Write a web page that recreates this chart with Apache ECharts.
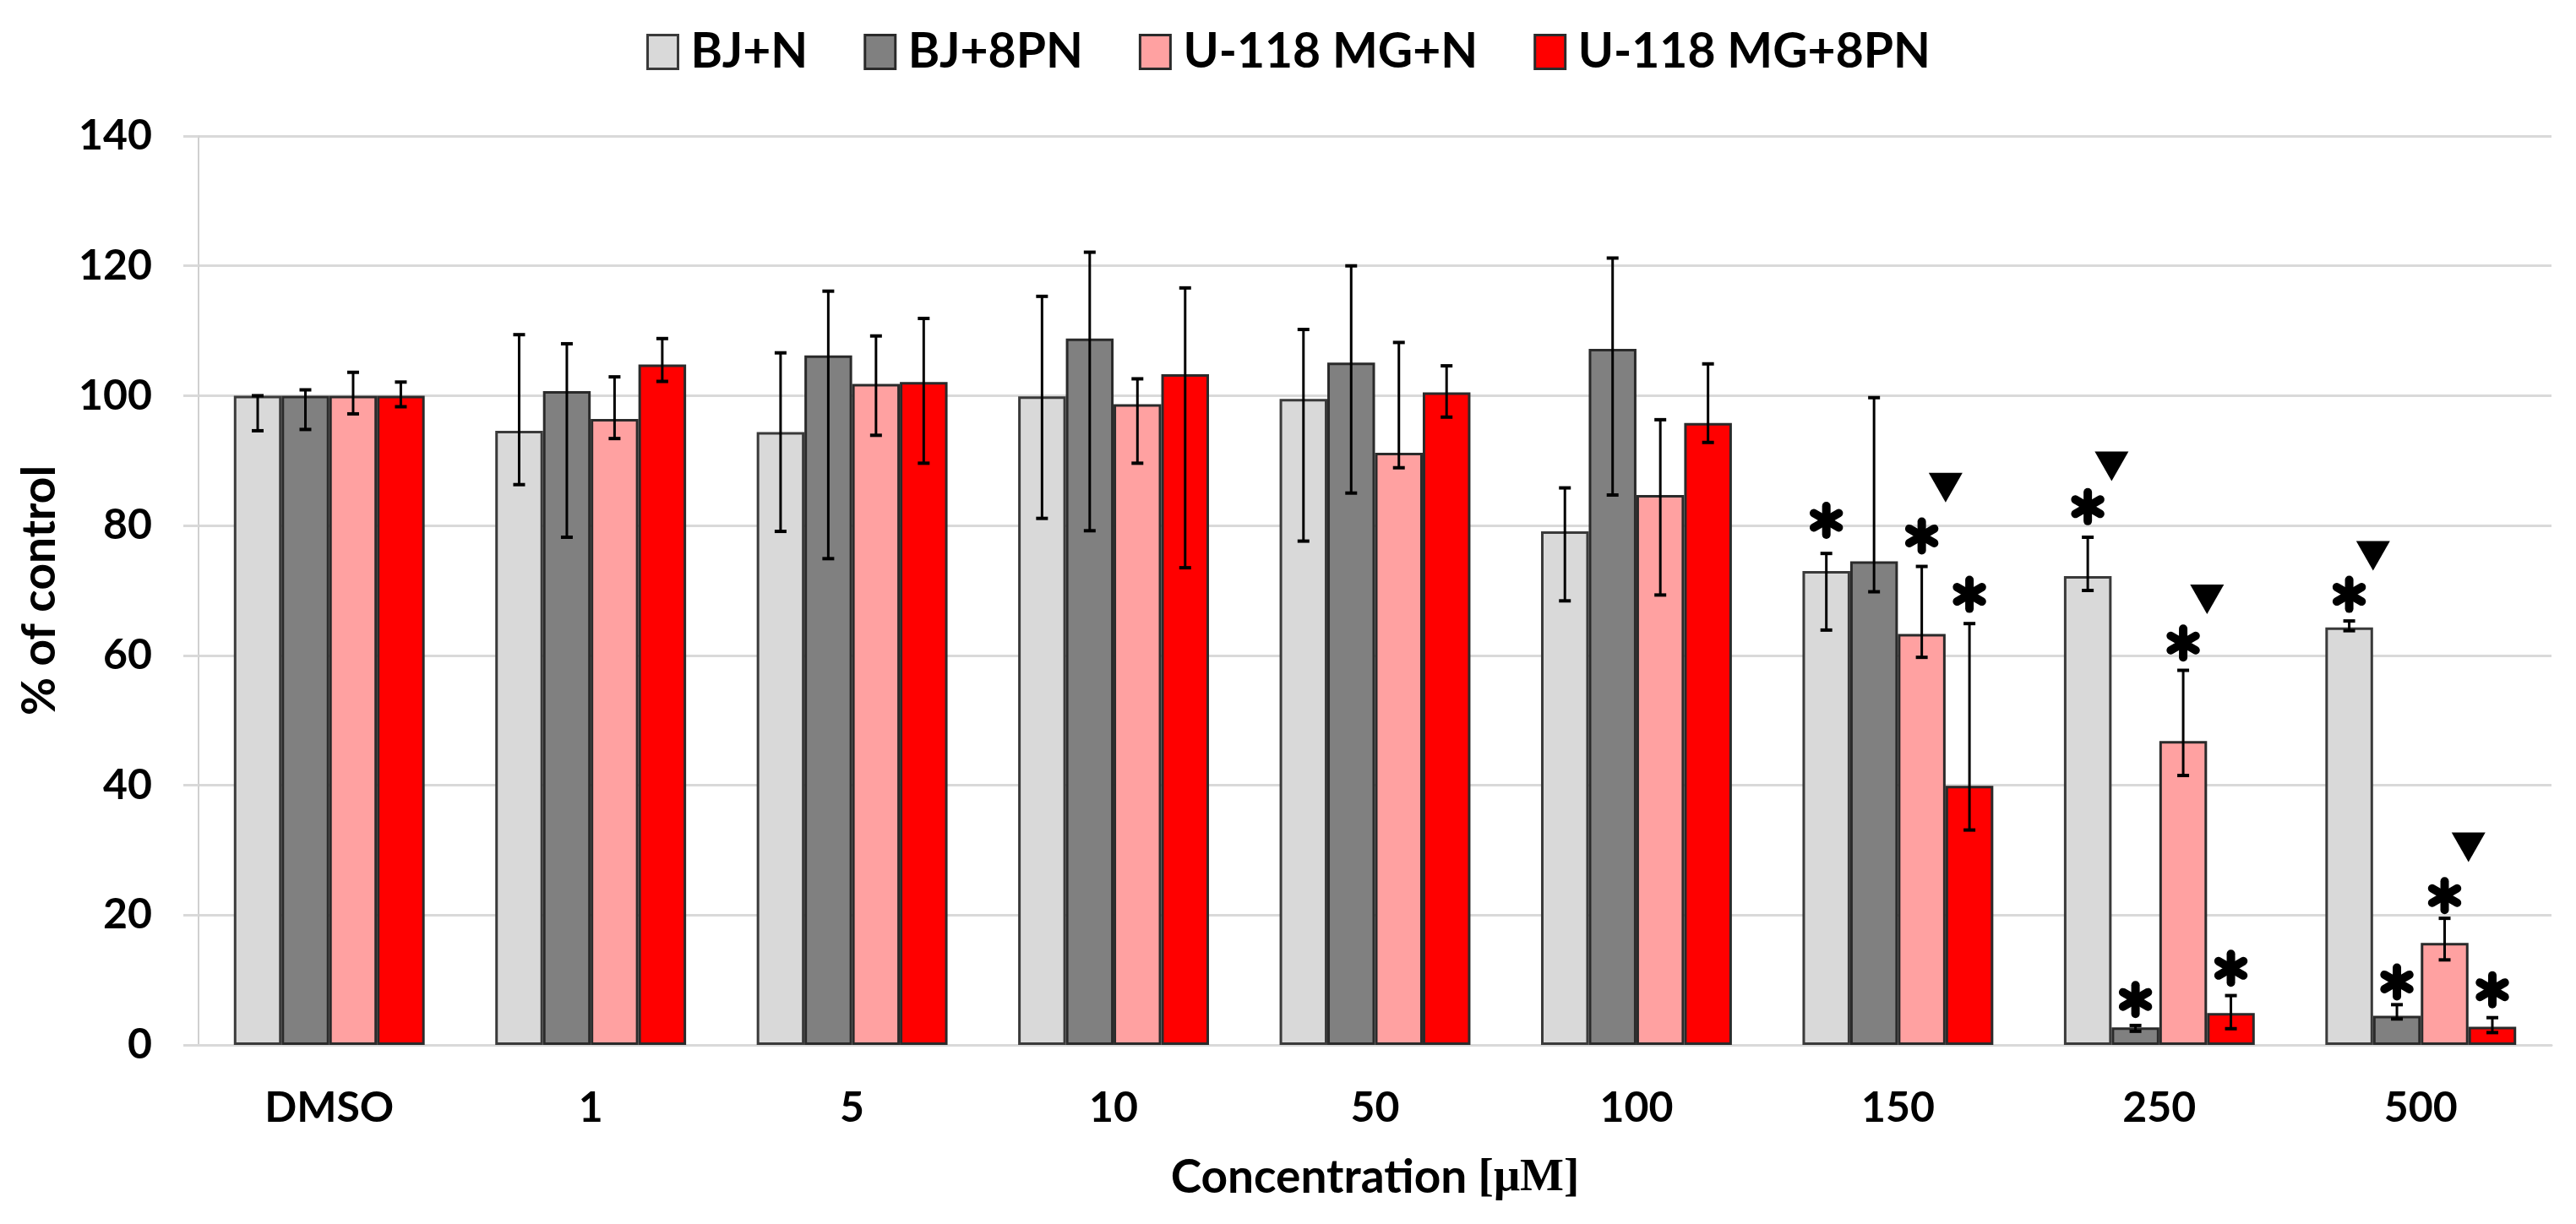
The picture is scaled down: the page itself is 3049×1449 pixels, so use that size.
<!DOCTYPE html>
<html>
<head>
<meta charset="utf-8">
<script src="https://cdn.jsdelivr.net/npm/echarts@6/dist/echarts.min.js"></script>
<style>
html,body{margin:0;padding:0;background:#fff;}
#chart{width:3049px;height:1449px;}
</style>
</head>
<body>
<div id="chart"></div>
<script>
const categories = ['DMSO', '1', '5', '10', '50', '100', '150', '250', '500'];
const seriesNames = ['BJ+N', 'BJ+8PN', 'U-118 MG+N', 'U-118 MG+8PN'];
const yTicks = [0, 20, 40, 60, 80, 100, 120, 140];

const bjN    = [100, 94.6, 94.4, 99.9, 99.5, 79.1, 73.0, 72.2, 64.3];
const bjNLo  = [94.6, 86.3, 79.1, 81.1, 77.6, 68.4, 63.9, 70.0, 63.8];
const bjNHi  = [100, 109.4, 106.6, 115.3, 110.2, 85.8, 75.7, 78.2, 65.3];

const bj8    = [100, 100.7, 106.2, 108.8, 105.1, 107.2, 74.5, 2.7, 4.5];
const bj8Lo  = [94.8, 78.2, 74.9, 79.2, 85.0, 84.7, 69.8, 2.1, 4.0];
const bj8Hi  = [100.9, 108.0, 116.1, 122.1, 120.0, 121.2, 99.7, 3.0, 6.2];

const mgN    = [100, 96.4, 101.8, 98.7, 91.2, 84.7, 63.3, 46.8, 15.7];
const mgNLo  = [97.2, 93.4, 93.9, 89.6, 88.9, 69.3, 59.7, 41.5, 13.1];
const mgNHi  = [103.6, 102.9, 109.2, 102.6, 108.2, 96.3, 73.7, 57.7, 19.5];

const mg8    = [100, 104.8, 102.1, 103.3, 100.5, 95.8, 39.9, 4.9, 2.8];
const mg8Lo  = [98.3, 102.2, 89.6, 73.5, 96.7, 92.8, 33.1, 2.5, 1.9];
const mg8Hi  = [102.1, 108.8, 111.9, 116.6, 104.6, 104.9, 64.9, 7.6, 4.2];

// significance markers (y position of asterisk / triangle centre, in axis units)
const bjNStar = [null, null, null, null, null, null, 80.8, 82.9, 69.4];
const bj8Star = [null, null, null, null, null, null, null, 7.0, 9.7];
const mgNStar = [null, null, null, null, null, null, 78.4, 61.9, 23.0];
const mg8Star = [null, null, null, null, null, null, 69.4, 11.8, 8.5];
const bjNTri  = [null, null, null, null, null, null, null, 89.2, 75.4];
const bj8Tri  = [null, null, null, null, null, null, null, null, null];
const mgNTri  = [null, null, null, null, null, null, 85.9, 68.7, 30.5];
const mg8Tri  = [null, null, null, null, null, null, null, null, null];

const values = [bjN, bj8, mgN, mg8];
const lows = [bjNLo, bj8Lo, mgNLo, mg8Lo];
const highs = [bjNHi, bj8Hi, mgNHi, mg8Hi];
const stars = [bjNStar, bj8Star, mgNStar, mg8Star];
const tris = [bjNTri, bj8Tri, mgNTri, mg8Tri];

const colors = ['#d9d9d9', '#808080', '#ffa1a1', '#ff0000'];
const borders = ['#3a3a3a', '#2a2a2a', '#2a2a2a', '#2a2a2a'];
const CAT_GAP = 0.27;
const FONT = 'Lato';

const chart = echarts.init(document.getElementById('chart'));

const series = [];
values.forEach((vals, i) => {
  series.push({
    name: seriesNames[i],
    type: 'bar',
    data: vals,
    barGap: '0%',
    barCategoryGap: (CAT_GAP * 100) + '%',
    itemStyle: { color: colors[i], borderColor: borders[i], borderWidth: 3 },
    emphasis: { disabled: true },
    z: 2
  });
});

values.forEach((vals, i) => {
  series.push({
    type: 'custom',
    name: seriesNames[i] + ' err',
    data: categories.map((c, k) => [k, lows[i][k], highs[i][k]]),
    encode: { x: 0, y: [1, 2] },
    z: 5,
    silent: true,
    renderItem: function (params, api) {
      const k = api.value(0);
      const catW = api.size([1, 0])[0];
      const barW = catW * (1 - CAT_GAP) / 4;
      const x = api.coord([k, 0])[0] + (i - 1.5) * barW;
      const yLo = api.coord([k, api.value(1)])[1];
      const yHi = api.coord([k, api.value(2)])[1];
      const cap = 7;
      const st = { stroke: '#000', lineWidth: 3 };
      const children = [
        { type: 'line', shape: { x1: x, y1: yLo, x2: x, y2: yHi }, style: st },
        { type: 'line', shape: { x1: x - cap, y1: yLo, x2: x + cap, y2: yLo }, style: { stroke: '#000', lineWidth: 4 } },
        { type: 'line', shape: { x1: x - cap, y1: yHi, x2: x + cap, y2: yHi }, style: { stroke: '#000', lineWidth: 4 } }
      ];
      const sv = stars[i][params.dataIndex];
      if (sv !== null && sv !== undefined) {
        const cy = api.coord([k, sv])[1];
        const r = 17;
        const ss = { stroke: '#000', lineWidth: 10, lineCap: 'round' };
        const c30 = Math.cos(Math.PI / 6) * r, s30 = Math.sin(Math.PI / 6) * r;
        children.push({ type: 'line', shape: { x1: x, y1: cy - r, x2: x, y2: cy + r }, style: ss });
        children.push({ type: 'line', shape: { x1: x - c30, y1: cy - s30, x2: x + c30, y2: cy + s30 }, style: ss });
        children.push({ type: 'line', shape: { x1: x - c30, y1: cy + s30, x2: x + c30, y2: cy - s30 }, style: ss });
      }
      const tv = tris[i][params.dataIndex];
      if (tv !== null && tv !== undefined) {
        const ty = api.coord([k, tv])[1];
        const tx = x + barW / 2;
        children.push({
          type: 'polygon',
          shape: { points: [[tx - 20, ty - 17], [tx + 20, ty - 17], [tx, ty + 18]] },
          style: { fill: '#000' }
        });
      }
      return { type: 'group', children: children };
    }
  });
});

const option = {
  animation: false,
  backgroundColor: '#ffffff',
  textStyle: { fontFamily: FONT },
  legend: {
    data: seriesNames,
    left: 760,
    top: 28,
    itemWidth: 36,
    itemHeight: 40,
    itemGap: 66,
    icon: 'rect',
    selectedMode: false,
    itemStyle: { borderWidth: 3 },
    textStyle: { fontFamily: FONT, fontWeight: 'bold', fontSize: 57, color: '#000', padding: [0, 0, 0, 10] }
  },
  grid: { left: 235, right: 29, top: 161, bottom: 212, containLabel: false },
  xAxis: {
    type: 'category',
    data: categories,
    name: '{a|Concentration }{b|[μM]}',
    nameLocation: 'middle',
    nameGap: 130,
    nameTextStyle: {
      rich: {
        a: { fontFamily: FONT, fontWeight: 'bold', fontSize: 55, color: '#000' },
        b: { fontFamily: 'Liberation Serif', fontWeight: 'bold', fontSize: 55, color: '#000' }
      }
    },
    axisLine: { lineStyle: { color: '#d9d9d9', width: 3 } },
    axisTick: { show: false },
    axisLabel: { fontFamily: FONT, fontWeight: 'bold', fontSize: 50, color: '#000', margin: 50 }
  },
  yAxis: {
    type: 'value',
    min: 0,
    max: 140,
    interval: 20,
    name: '% of control',
    nameLocation: 'middle',
    nameGap: 160,
    nameRotate: 90,
    nameTextStyle: { fontFamily: FONT, fontWeight: 'bold', fontSize: 55, color: '#000' },
    axisLine: { show: true, lineStyle: { color: '#d0d0d0', width: 2 } },
    axisTick: { show: true, length: 18, lineStyle: { color: '#d9d9d9', width: 3 } },
    splitLine: { lineStyle: { color: '#d9d9d9', width: 3 } },
    axisLabel: {
      fontFamily: FONT, fontWeight: 'bold', fontSize: 50, color: '#000', margin: 55,
      formatter: function (v) { return yTicks.indexOf(v) >= 0 ? String(v) : ''; }
    }
  },
  series: series
};
chart.setOption(option);
</script>
</body>
</html>
